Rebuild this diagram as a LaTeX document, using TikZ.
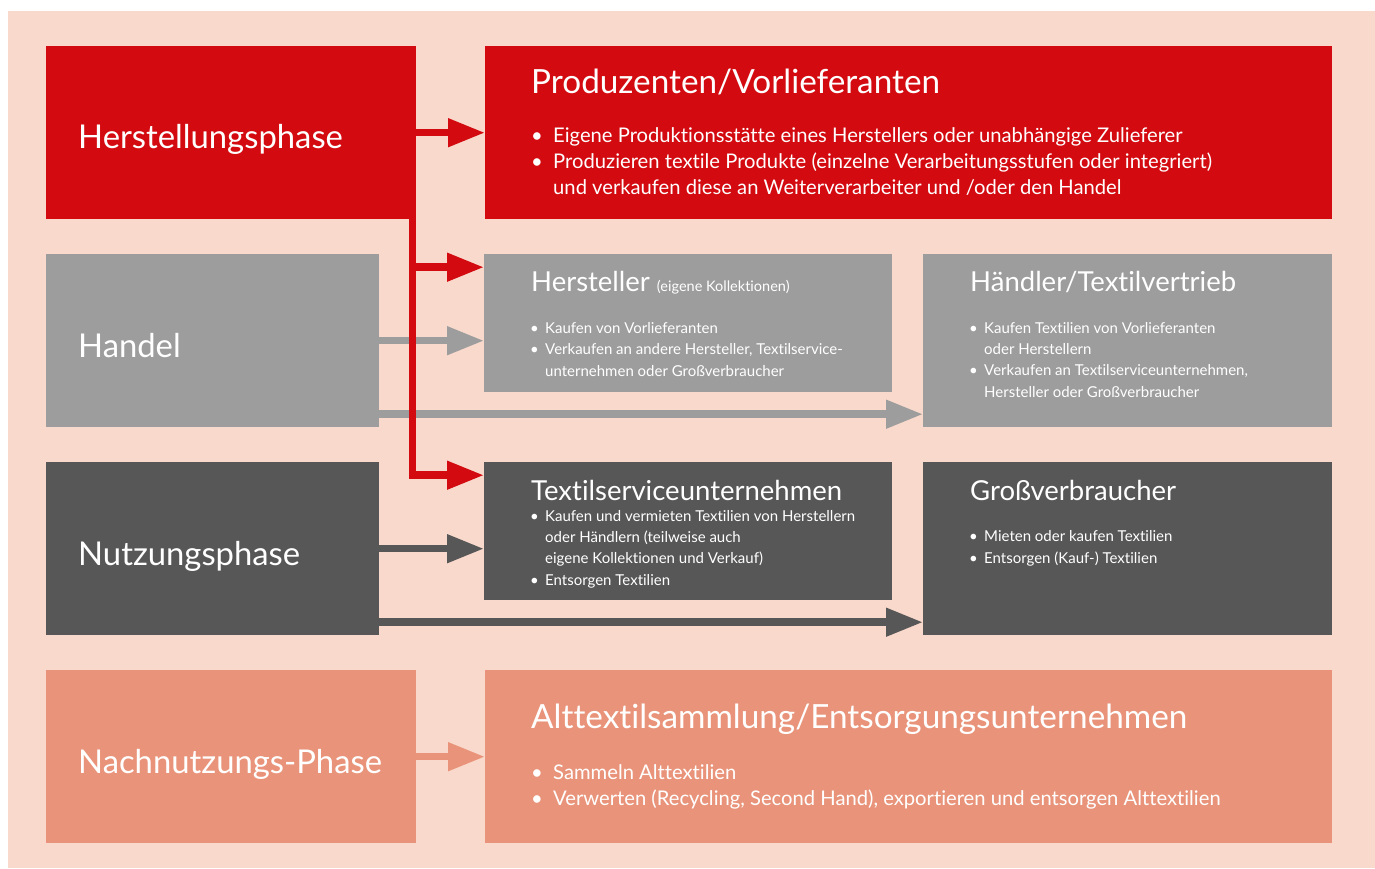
\documentclass[tikz,border=0pt]{standalone}
\usepackage{fontspec}
\setmainfont{Lato}[Ligatures=CommonOff]
\usetikzlibrary{arrows.meta, positioning}

\definecolor{hsred}{RGB}{211,10,16}
\definecolor{hsgrey}{RGB}{156,157,156}
\definecolor{hsdark}{RGB}{87,87,87}
\definecolor{hssalmon}{RGB}{233,148,122}
\definecolor{hsbg}{RGB}{248,217,203}

\newcommand{\bigbul}{\makebox[22pt][l]{\textbullet}}
\newcommand{\bigind}{\hspace*{22pt}}
\newcommand{\smbul}{\makebox[15pt][l]{\textbullet}}
\newcommand{\smind}{\hspace*{15pt}}

\tikzset{
  blk/.style={fill=#1, draw=none, inner sep=0pt, anchor=north west},
  phase/.style={anchor=base west, inner sep=0pt, text=white, font=\fontsize{32.8}{32.8}\selectfont},
  head/.style={anchor=base west, inner sep=0pt, text=white, font=\fontsize{33.3}{33.3}\selectfont},
  subhead/.style={anchor=base west, inner sep=0pt, text=white, font=\fontsize{27.5}{27.5}\selectfont},
  biglist/.style={anchor=base west, inner sep=0pt, text=white, align=left, font=\fontsize{20.2}{26}\selectfont},
  smlist/.style={anchor=base west, inner sep=0pt, text=white, align=left, font=\fontsize{15}{21.3}\selectfont},
  arr/.style={draw=#1, line width=7.5pt, -{Triangle[length=37pt, width=27pt]}}
}

\begin{document}
\begin{tikzpicture}[x=1pt, y=-1pt]
    \useasboundingbox (0,0) rectangle (1375,868);
    % Background
    \fill[hsbg] (8,11) rectangle (1375,868);

    % Phases (left column)
    \node[blk=hsred, minimum width=370pt, minimum height=173pt] (hp) at (46,46) {};
    \node[blk=hsgrey, minimum width=333pt, minimum height=173pt] (handel) at (46,254) {};
    \node[blk=hsdark, minimum width=333pt, minimum height=173pt] (nutz) at (46,462) {};
    \node[blk=hssalmon, minimum width=370pt, minimum height=173pt] (nach) at (46,670) {};

    \node[phase] (hp-t) at (78,148) {Herstellungsphase};
    \node[phase] (handel-t) at (78,357) {Handel};
    \node[phase] (nutz-t) at (78,565) {Nutzungsphase};
    \node[phase] (nach-t) at (78,773) {Nachnutzungs-Phase};

    % Actors (right columns)
    \node[blk=hsred, minimum width=847pt, minimum height=173pt] (prod) at (485,46) {};
    \node[blk=hsgrey, minimum width=408pt, minimum height=138pt] (hst) at (484,254) {};
    \node[blk=hsgrey, minimum width=409pt, minimum height=173pt] (hdl) at (923,254) {};
    \node[blk=hsdark, minimum width=408pt, minimum height=138pt] (tsu) at (484,462) {};
    \node[blk=hsdark, minimum width=409pt, minimum height=173pt] (gv) at (923,462) {};
    \node[blk=hssalmon, minimum width=847pt, minimum height=173pt] (alt) at (485,670) {};

    % Produzenten (list nodes sit on the baseline of their last line)
    \node[head] (prod-t) at (531,93) {Produzenten/Vorlieferanten};
    \node[biglist] (prod-l) at (531,194) {\bigbul Eigene Produktionsstätte eines Herstellers oder unabhängige Zulieferer\\
      \bigbul Produzieren textile Produkte (einzelne Verarbeitungsstufen oder integriert)\\
      \bigind und verkaufen diese an Weiterverarbeiter und /oder den Handel};

    % Hersteller
    \node[subhead] (hst-t) at (531,291) {Hersteller {\fontsize{14.5}{14.5}\selectfont(eigene Kollektionen)}};
    \node[smlist] (hst-l) at (530,376) {\smbul Kaufen von Vorlieferanten\\
      \smbul Verkaufen an andere Hersteller, Textilservice-\\
      \smind unternehmen oder Großverbraucher};

    % Haendler
    \node[subhead] (hdl-t) at (970,291) {Händler/Textilvertrieb};
    \node[smlist] (hdl-l) at (969,397) {\smbul Kaufen Textilien von Vorlieferanten\\
      \smind oder Herstellern\\
      \smbul Verkaufen an Textilserviceunternehmen,\\
      \smind Hersteller oder Großverbraucher};

    % Textilservice
    \node[subhead] (tsu-t) at (531,500) {Textilserviceunternehmen};
    \node[smlist] (tsu-l) at (530,585) {\smbul Kaufen und vermieten Textilien von Herstellern\\
      \smind oder Händlern (teilweise auch\\
      \smind eigene Kollektionen und Verkauf)\\
      \smbul Entsorgen Textilien};

    % Grossverbraucher
    \node[subhead] (gv-t) at (970,500) {Großverbraucher};
    \node[smlist] (gv-l) at (969,563) {\smbul Mieten oder kaufen Textilien\\
      \smbul Entsorgen (Kauf-) Textilien};

    % Alttextil
    \node[head] (alt-t) at (531,728) {Alttextilsammlung/Entsorgungsunternehmen};
    \node[biglist] (alt-l) at (531,805) {\bigbul Sammeln Alttextilien\\
      \bigbul Verwerten (Recycling, Second Hand), exportieren und entsorgen Alttextilien};

    % Connectors
    \coordinate (hl) at ([yshift=-73.5pt]handel.east);
    \coordinate (nl) at ([yshift=-73.5pt]nutz.east);
    \draw[arr=hsgrey] (handel.east) -- (handel.east -| hst.west);
    \draw[arr=hsgrey] (hl) -- (hl -| hdl.west);
    \draw[arr=hsdark] (nutz.east) -- (nutz.east -| tsu.west);
    \draw[arr=hsdark] (nl) -- (nl -| gv.west);
    \draw[arr=hssalmon] (nach) -- (alt);

    \coordinate (rtop) at ([xshift=-3.75pt]hp.south east);
    \coordinate (rhst) at ([yshift=56pt]hst.west);
    \coordinate (rtsu) at ([yshift=56pt]tsu.west);
    \draw[arr=hsred] (hp) -- (prod);
    \draw[arr=hsred] (rtop) |- (rhst);
    \draw[arr=hsred] (rtop) |- (rtsu);
\end{tikzpicture}
\end{document}
